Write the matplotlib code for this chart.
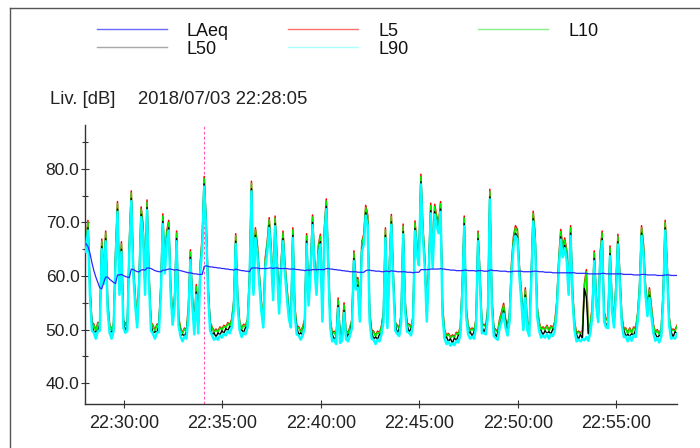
import matplotlib
matplotlib.use("Agg")
import matplotlib.pyplot as plt
import matplotlib.dates as mdates
from matplotlib.lines import Line2D
from matplotlib.ticker import MultipleLocator, FormatStrFormatter
import pandas as pd

plt.rcParams['font.family'] = ['Liberation Sans', 'DejaVu Sans']

# ---------------- data (6-second steps) ----------------
start_time = '2018-07-03 22:28:05'
step = '6s'

LAEQ = [
    66, 65.5, 64.3, 62.5, 61, 59.8, 58.8, 57.8, 57.6, 58.8,
    59.8, 59.8, 59.4, 59.1, 58.8, 58.6, 60.2, 60.2, 60.3, 60.1,
    59.9, 59.8, 59.7, 61.3, 61.2, 61.0, 60.8, 60.8, 61.1, 61.2,
    61.1, 61.5, 61.5, 61.4, 61.2, 61.0, 60.9, 60.8, 60.8, 61.1,
    61.1, 61.2, 61.3, 61.3, 61.2, 61.1, 61.2, 61.1, 61.0, 60.9,
    60.8, 60.7, 60.6, 60.6, 60.5, 60.4, 60.4, 60.3, 60.3, 60.3,
    61.8, 61.9, 61.8, 61.7, 61.7, 61.6, 61.6, 61.5, 61.5, 61.4,
    61.4, 61.3, 61.3, 61.2, 61.2, 61.1, 61.3, 61.2, 61.1, 61.0,
    61.0, 60.9, 60.9, 60.8, 61.5, 61.5, 61.5, 61.5, 61.4, 61.4,
    61.4, 61.4, 61.4, 61.5, 61.5, 61.4, 61.5, 61.5, 61.4, 61.4,
    61.4, 61.4, 61.4, 61.3, 61.3, 61.3, 61.3, 61.2, 61.2, 61.1,
    61.1, 61.0, 61.1, 61.1, 61.1, 61.2, 61.2, 61.2, 61.2, 61.2,
    61.2, 61.2, 61.4, 61.4, 61.3, 61.3, 61.2, 61.2, 61.1, 61.1,
    61.0, 61.0, 60.9, 60.9, 60.8, 60.8, 60.8, 60.8, 60.7, 60.7,
    60.7, 60.7, 61.0, 61.1, 61.1, 61.0, 61.0, 60.9, 60.9, 60.9,
    60.8, 60.8, 60.9, 60.9, 60.8, 61.0, 60.9, 60.9, 60.8, 60.8,
    60.8, 60.8, 60.8, 60.7, 60.7, 60.7, 60.6, 60.7, 60.7, 60.7,
    61.2, 61.2, 61.2, 61.2, 61.2, 61.3, 61.3, 61.3, 61.3, 61.3,
    61.4, 61.3, 61.3, 61.2, 61.2, 61.1, 61.1, 61.1, 61.0, 61.0,
    61.0, 61.0, 61.1, 61.1, 61.0, 61.0, 61.0, 61.0, 60.9, 61.0,
    61.0, 61.0, 60.9, 60.9, 60.9, 61.1, 61.1, 61.0, 61.0, 61.0,
    60.9, 60.9, 60.9, 60.9, 60.8, 60.8, 60.8, 60.9, 60.9, 60.9,
    60.9, 60.9, 60.8, 60.8, 60.8, 60.8, 60.8, 60.9, 60.9, 60.9,
    60.8, 60.8, 60.8, 60.7, 60.7, 60.7, 60.7, 60.6, 60.6, 60.6,
    60.6, 60.6, 60.6, 60.6, 60.6, 60.6, 60.6, 60.6, 60.6, 60.5,
    60.5, 60.5, 60.5, 60.5, 60.5, 60.4, 60.4, 60.4, 60.4, 60.4,
    60.4, 60.4, 60.5, 60.5, 60.4, 60.4, 60.4, 60.4, 60.4, 60.4,
    60.4, 60.4, 60.4, 60.3, 60.3, 60.3, 60.3, 60.3, 60.2, 60.2,
    60.2, 60.2, 60.3, 60.3, 60.3, 60.2, 60.2, 60.2, 60.2, 60.2,
    60.1, 60.1, 60.1, 60.1, 60.2, 60.2, 60.2, 60.1, 60.1, 60.1, 60.1,
]

L5 = [
    66.4, 70.4, 58.4, 51.4, 51.0, 49.9, 51.3, 51.4, 66.9, 60.4,
    68.4, 55.4, 51.0, 49.9, 51.3, 64.4, 73.9, 58.4, 66.4, 51.9,
    51.0, 51.4, 66.4, 75.9, 62.4, 56.4, 52.0, 60.4, 72.9, 69.4,
    58.4, 74.2, 60.4, 51.4, 50.8, 49.9, 51.0, 51.1, 58.4, 71.6,
    62.4, 68.4, 70.4, 58.4, 52.5, 56.4, 68.4, 52.4, 50.3, 49.4,
    50.3, 49.9, 54.4, 64.9, 56.4, 50.7, 58.4, 50.9, 62.4, 67.4,
    78.6, 70.4, 58.4, 51.4, 50.5, 49.7, 50.1, 49.7, 50.5, 50.1,
    50.8, 50.5, 51.3, 50.9, 52.0, 55.4, 67.9, 56.4, 51.5, 50.2,
    51.0, 50.7, 52.0, 60.4, 77.7, 58.4, 69.0, 65.9, 60.4, 55.4,
    52.0, 63.4, 66.4, 70.9, 65.4, 57.4, 71.2, 63.4, 54.9, 62.4,
    68.4, 62.4, 57.9, 53.9, 52.0, 69.0, 54.4, 50.7, 50.5, 49.7,
    50.5, 51.9, 67.9, 56.4, 62.4, 71.4, 63.4, 58.4, 65.9, 67.8,
    53.4, 69.0, 74.4, 63.4, 52.0, 49.4, 49.7, 48.9, 55.9, 49.1,
    49.5, 55.0, 49.8, 49.4, 50.5, 51.9, 64.7, 59.4, 59.7, 53.4,
    66.4, 67.8, 73.2, 71.4, 53.4, 49.9, 49.7, 48.9, 49.7, 49.4,
    50.7, 53.4, 69.0, 51.9, 62.4, 71.5, 60.4, 51.4, 50.8, 50.4,
    53.0, 69.7, 55.4, 51.2, 51.0, 50.5, 52.5, 70.3, 65.9, 63.9,
    79.0, 69.4, 63.4, 53.4, 62.4, 73.6, 63.4, 73.4, 71.2, 69.9,
    73.9, 54.4, 50.0, 48.9, 49.3, 48.6, 49.0, 48.7, 49.5, 49.2,
    50.5, 58.4, 71.2, 54.4, 50.7, 49.9, 50.3, 49.9, 52.0, 68.4,
    60.4, 50.9, 51.0, 50.7, 54.4, 76.2, 56.4, 50.4, 50.0, 49.7,
    52.0, 53.4, 54.9, 51.9, 50.5, 53.4, 62.4, 67.4, 69.4, 68.7,
    61.9, 57.2, 51.5, 57.8, 51.5, 50.4, 60.4, 72.1, 67.8, 54.4,
    51.5, 50.1, 50.5, 50.1, 50.8, 49.9, 50.7, 50.4, 51.5, 55.4,
    63.4, 68.7, 65.4, 67.1, 64.9, 58.4, 69.4, 57.4, 51.5, 49.4,
    49.7, 49.4, 49.8, 58.6, 61.2, 49.5, 51.0, 54.4, 64.7, 56.4,
    53.0, 64.4, 68.4, 53.4, 52.0, 51.9, 65.6, 55.4, 52.0, 58.4,
    67.8, 60.4, 52.5, 50.2, 50.3, 49.4, 50.3, 49.5, 50.5, 50.2,
    53.0, 58.4, 69.4, 65.9, 58.4, 54.4, 57.8, 54.4, 51.0, 49.5,
    50.0, 49.2, 50.3, 57.4, 70.4, 62.4, 52.5, 49.9, 50.1, 49.9, 50.8,
]

L10 = [
    66, 70, 58, 51.2, 50.8, 49.7, 51.1, 51.2, 66.5, 60,
    68, 55, 50.8, 49.7, 51.1, 64, 73.5, 58, 66, 51.7,
    50.8, 51.2, 66, 75.5, 62, 56, 51.8, 60, 72.5, 69,
    58, 73.8, 60, 51.2, 50.6, 49.7, 50.8, 50.9, 58, 71.2,
    62, 68, 70, 58, 52.3, 56, 68, 52.2, 50.1, 49.2,
    50.1, 49.7, 54, 64.5, 56, 50.5, 58, 50.7, 62, 67,
    78.2, 70, 58, 51.2, 50.3, 49.5, 49.9, 49.5, 50.3, 49.9,
    50.6, 50.3, 51.1, 50.7, 51.8, 55, 67.5, 56, 51.3, 50.0,
    50.8, 50.5, 51.8, 60, 77.3, 58, 68.6, 65.5, 60, 55,
    51.8, 63, 66, 70.5, 65, 57, 70.8, 63, 54.5, 62,
    68, 62, 57.5, 53.5, 51.8, 68.6, 54, 50.5, 50.3, 49.5,
    50.3, 51.7, 67.5, 56, 62, 71, 63, 58, 65.5, 67.4,
    53, 68.6, 74, 63, 51.8, 49.2, 49.5, 48.7, 55.5, 48.9,
    49.3, 54.6, 49.6, 49.2, 50.3, 51.7, 64.3, 59, 59.3, 53,
    66, 67.4, 72.8, 71, 53, 49.7, 49.5, 48.7, 49.5, 49.2,
    50.5, 53, 68.6, 51.7, 62, 71.1, 60, 51.2, 50.6, 50.2,
    52.8, 69.3, 55, 51.0, 50.8, 50.3, 52.3, 69.9, 65.5, 63.5,
    78.6, 69, 63, 53, 62, 73.2, 63, 73, 70.8, 69.5,
    73.5, 54, 49.8, 48.7, 49.1, 48.4, 48.8, 48.5, 49.3, 49.0,
    50.3, 58, 70.8, 54, 50.5, 49.7, 50.1, 49.7, 51.8, 68,
    60, 50.7, 50.8, 50.5, 54, 75.8, 56, 50.2, 49.8, 49.5,
    51.8, 53, 54.5, 51.7, 50.3, 53, 62, 67, 69, 68.3,
    61.5, 56.8, 51.3, 57.4, 51.3, 50.2, 60, 71.7, 67.4, 54,
    51.3, 49.9, 50.3, 49.9, 50.6, 49.7, 50.5, 50.2, 51.3, 55,
    63, 68.3, 65, 66.7, 64.5, 58, 69, 57, 51.3, 49.2,
    49.5, 49.2, 49.6, 58.2, 60.8, 49.3, 50.8, 54, 64.3, 56,
    52.8, 64, 68, 53, 51.8, 51.7, 65.2, 55, 51.8, 58,
    67.4, 60, 52.3, 50.0, 50.1, 49.2, 50.1, 49.3, 50.3, 50.0,
    52.8, 58, 69, 65.5, 58, 54, 57.4, 54, 50.8, 49.3,
    49.8, 49.0, 50.1, 57, 70, 62, 52.3, 49.7, 49.9, 49.7, 50.6,
]

L50 = [
    65.0, 69.0, 57.0, 51.1, 49.5, 49.6, 49.8, 51.1, 65.5, 59.0,
    67.0, 54.0, 49.5, 49.6, 49.8, 63.0, 72.5, 57.0, 65.0, 51.6,
    49.5, 51.1, 65.0, 74.5, 61.0, 55.0, 50.5, 59.0, 71.5, 68.0,
    57.0, 72.8, 59.0, 51.1, 49.3, 49.6, 49.5, 50.8, 57.0, 70.2,
    61.0, 67.0, 69.0, 57.0, 51.0, 55.0, 67.0, 52.1, 48.8, 49.1,
    48.8, 49.6, 53.0, 63.5, 55.0, 50.4, 57.0, 50.6, 61.0, 66.0,
    77.2, 69.0, 57.0, 51.1, 49.0, 49.4, 48.6, 49.4, 49.0, 49.8,
    49.3, 50.2, 49.8, 50.6, 50.5, 54.0, 66.5, 55.0, 50.0, 49.9,
    49.5, 50.4, 50.5, 59.0, 76.3, 57.0, 67.6, 64.5, 59.0, 54.0,
    50.5, 62.0, 65.0, 69.5, 64.0, 56.0, 69.8, 62.0, 53.5, 61.0,
    67.0, 61.0, 56.5, 52.5, 50.5, 67.6, 53.0, 50.4, 49.0, 49.4,
    49.0, 51.6, 66.5, 55.0, 61.0, 70.0, 62.0, 57.0, 64.5, 66.4,
    52.0, 67.6, 73.0, 62.0, 50.5, 49.1, 48.2, 48.6, 54.5, 48.8,
    48.0, 53.6, 48.3, 49.1, 49.0, 51.6, 63.3, 58.0, 58.3, 52.0,
    65.0, 66.4, 71.8, 70.0, 52.0, 49.6, 48.2, 48.6, 48.2, 49.1,
    49.2, 52.0, 67.6, 51.6, 61.0, 70.1, 59.0, 51.1, 49.3, 50.1,
    51.5, 68.3, 54.0, 50.9, 49.5, 50.2, 51.0, 68.9, 64.5, 62.5,
    77.6, 68.0, 62.0, 52.0, 61.0, 72.2, 62.0, 72.0, 69.8, 68.5,
    72.5, 53.0, 48.5, 48.6, 47.8, 48.3, 47.5, 48.4, 48.0, 48.9,
    49.0, 57.0, 69.8, 53.0, 49.2, 49.6, 48.8, 49.6, 50.5, 67.0,
    59.0, 50.6, 49.5, 50.4, 53.0, 74.8, 55.0, 50.1, 48.5, 49.4,
    50.5, 52.0, 53.5, 51.6, 49.0, 52.0, 61.0, 66.0, 68.0, 67.3,
    60.5, 55.8, 50.0, 56.4, 50.0, 50.1, 59.0, 70.7, 66.4, 53.0,
    50.0, 49.8, 49.0, 49.8, 49.3, 49.6, 49.2, 50.1, 50.0, 54.0,
    62.0, 67.3, 64.0, 65.7, 63.5, 57.0, 68.0, 56.0, 50.0, 49.1,
    48.2, 49.1, 48.3, 57.7, 56.0, 49.2, 49.5, 53.0, 63.3, 55.0,
    51.5, 63.0, 67.0, 52.0, 50.5, 51.6, 64.2, 54.0, 50.5, 57.0,
    66.4, 59.0, 51.0, 49.9, 48.8, 49.1, 48.8, 49.2, 49.0, 49.9,
    51.5, 57.0, 68.0, 64.5, 57.0, 53.0, 56.4, 53.0, 49.5, 49.2,
    48.5, 48.9, 48.8, 56.0, 69.0, 61.0, 51.0, 49.6, 48.6, 49.6, 49.3,
]

L90 = [
    64.5, 68.5, 56.5, 49.8, 49.4, 48.3, 49.7, 49.8, 65.0, 58.5,
    66.5, 53.5, 49.4, 48.3, 49.7, 62.5, 72.0, 56.5, 64.5, 50.3,
    49.4, 49.8, 64.5, 74.0, 60.5, 54.5, 50.4, 58.5, 71.0, 67.5,
    56.5, 72.3, 58.5, 49.8, 49.2, 48.3, 49.4, 49.5, 56.5, 69.7,
    60.5, 66.5, 68.5, 56.5, 50.9, 54.5, 66.5, 50.8, 48.7, 47.8,
    48.7, 48.3, 52.5, 63.0, 54.5, 49.1, 56.5, 49.3, 60.5, 65.5,
    76.7, 68.5, 56.5, 49.8, 48.9, 48.1, 48.5, 48.1, 48.9, 48.5,
    49.2, 48.9, 49.7, 49.3, 50.4, 53.5, 66.0, 54.5, 49.9, 48.6,
    49.4, 49.1, 50.4, 58.5, 75.8, 56.5, 67.1, 64.0, 58.5, 53.5,
    50.4, 61.5, 64.5, 69.0, 63.5, 55.5, 69.3, 61.5, 53.0, 60.5,
    66.5, 60.5, 56.0, 52.0, 50.4, 67.1, 52.5, 49.1, 48.9, 48.1,
    48.9, 50.3, 66.0, 54.5, 60.5, 69.5, 61.5, 56.5, 64.0, 65.9,
    51.5, 67.1, 72.5, 61.5, 50.4, 47.8, 48.1, 47.3, 54.0, 47.5,
    47.9, 53.1, 48.2, 47.8, 48.9, 50.3, 62.8, 57.5, 57.8, 51.5,
    64.5, 65.9, 71.3, 69.5, 51.5, 48.3, 48.1, 47.3, 48.1, 47.8,
    49.1, 51.5, 67.1, 50.3, 60.5, 69.6, 58.5, 49.8, 49.2, 48.8,
    51.4, 67.8, 53.5, 49.6, 49.4, 48.9, 50.9, 68.4, 64.0, 62.0,
    77.1, 67.5, 61.5, 51.5, 60.5, 71.7, 61.5, 71.5, 69.3, 68.0,
    72.0, 52.5, 48.4, 47.3, 47.7, 47.0, 47.4, 47.1, 47.9, 47.6,
    48.9, 56.5, 69.3, 52.5, 49.1, 48.3, 48.7, 48.3, 50.4, 66.5,
    58.5, 49.3, 49.4, 49.1, 52.5, 74.3, 54.5, 48.8, 48.4, 48.1,
    50.4, 51.5, 53.0, 50.3, 48.9, 51.5, 60.5, 65.5, 67.5, 66.8,
    60.0, 55.3, 49.9, 55.9, 49.9, 48.8, 58.5, 70.2, 65.9, 52.5,
    49.9, 48.5, 48.9, 48.5, 49.2, 48.3, 49.1, 48.8, 49.9, 53.5,
    61.5, 66.8, 63.5, 65.2, 63.0, 56.5, 67.5, 55.5, 49.9, 47.8,
    48.1, 47.8, 48.2, 48.0, 48.6, 47.9, 49.4, 52.5, 62.8, 54.5,
    51.4, 62.5, 66.5, 51.5, 50.4, 50.3, 63.7, 53.5, 50.4, 56.5,
    65.9, 58.5, 50.9, 48.6, 48.7, 47.8, 48.7, 47.9, 48.9, 48.6,
    51.4, 56.5, 67.5, 64.0, 56.5, 52.5, 55.9, 52.5, 49.4, 47.9,
    48.4, 47.6, 48.7, 55.5, 68.5, 60.5, 50.9, 48.3, 48.5, 48.3, 49.2,
]

marker_time = '2018-07-03 22:34:05'
x_min = '2018-07-03 22:28:02'
x_max = '2018-07-03 22:58:05'
y_min, y_max = 36.1, 88.2
header_label = 'Liv. [dB]'
header_time = '2018/07/03 22:28:05'

# ---------------- figure ----------------
W, H = 700, 448
fig = plt.figure(figsize=(W / 100, H / 100), dpi=100)
fig.patch.set_facecolor('white')


def fx(x):
    return x / W


def fy(y):
    return 1 - y / H


ax = fig.add_axes([fx(85), fy(404), (677 - 85) / W, (404 - 125) / H])

times = pd.date_range(start_time, periods=len(L10), freq=step)

colors = {'LAeq': '#2a2aff', 'L5': '#ff0000', 'L10': '#00ee00', 'L50': '#000000', 'L90': '#00ffff'}
legend_colors = {'LAeq': '#6a6aff', 'L5': '#ff7070', 'L10': '#88f088', 'L50': '#a8a8a8', 'L90': '#aaffff'}

ax.plot(times, L5, color=colors['L5'], lw=1.1, zorder=2)
ax.plot(times, L10, color=colors['L10'], lw=1.1, zorder=3)
ax.plot(times, L50, color=colors['L50'], lw=1.0, zorder=4)
ax.plot(times, L90, color=colors['L90'], lw=1.8, zorder=5)
ax.plot(times, LAEQ, color=colors['LAeq'], lw=0.9, zorder=6)

ax.axvline(pd.Timestamp(marker_time), color='#ff55bb', lw=0.8, ls=(0, (2.5, 2)), zorder=1)

ax.set_xlim(pd.Timestamp(x_min), pd.Timestamp(x_max))
ax.set_ylim(y_min, y_max)

ax.xaxis.set_major_locator(mdates.MinuteLocator(byminute=range(0, 60, 5)))
ax.xaxis.set_major_formatter(mdates.DateFormatter('%H:%M:%S'))
ax.yaxis.set_major_locator(MultipleLocator(10))
ax.yaxis.set_minor_locator(MultipleLocator(5))
ax.yaxis.set_major_formatter(FormatStrFormatter('%.1f'))

for s in ['top', 'right']:
    ax.spines[s].set_visible(False)
for s in ['left', 'bottom']:
    ax.spines[s].set_color('#333333')
    ax.spines[s].set_linewidth(1.0)

ax.tick_params(axis='y', which='major', direction='inout', length=6, width=0.8,
               colors='#333333', labelcolor='#222222', labelsize=12.5, pad=1)
ax.tick_params(axis='y', which='minor', direction='inout', length=4, width=0.8, colors='#333333')
ax.tick_params(axis='x', which='major', direction='inout', length=6, width=0.8,
               colors='#333333', labelcolor='#222222', labelsize=13, pad=5)

# outer frame lines
fig.add_artist(Line2D([fx(10), fx(10)], [0, fy(8)], color='#555555', lw=1.0))
fig.add_artist(Line2D([fx(10), 1], [fy(8), fy(8)], color='#555555', lw=1.0))

# legend (manual, two rows)
legend_layout = [
    ('LAeq', 97, 29.5), ('L5', 288, 29.5), ('L10', 478, 29.5),
    ('L50', 97, 47.5), ('L90', 288, 47.5),
]
for name, x0, yy in legend_layout:
    fig.add_artist(Line2D([fx(x0), fx(x0 + 70)], [fy(yy), fy(yy)],
                          color=legend_colors[name], lw=1.0))
    fig.text(fx(x0 + 90), fy(yy + 2.5), name, fontsize=13, va='center', ha='left', color='#111111')

fig.text(fx(50), fy(100), header_label, fontsize=13.3, va='center', ha='left', color='#222222')
fig.text(fx(138), fy(100), header_time, fontsize=13.3, va='center', ha='left', color='#222222')

fig.savefig('out.png', dpi=100, facecolor='white')
